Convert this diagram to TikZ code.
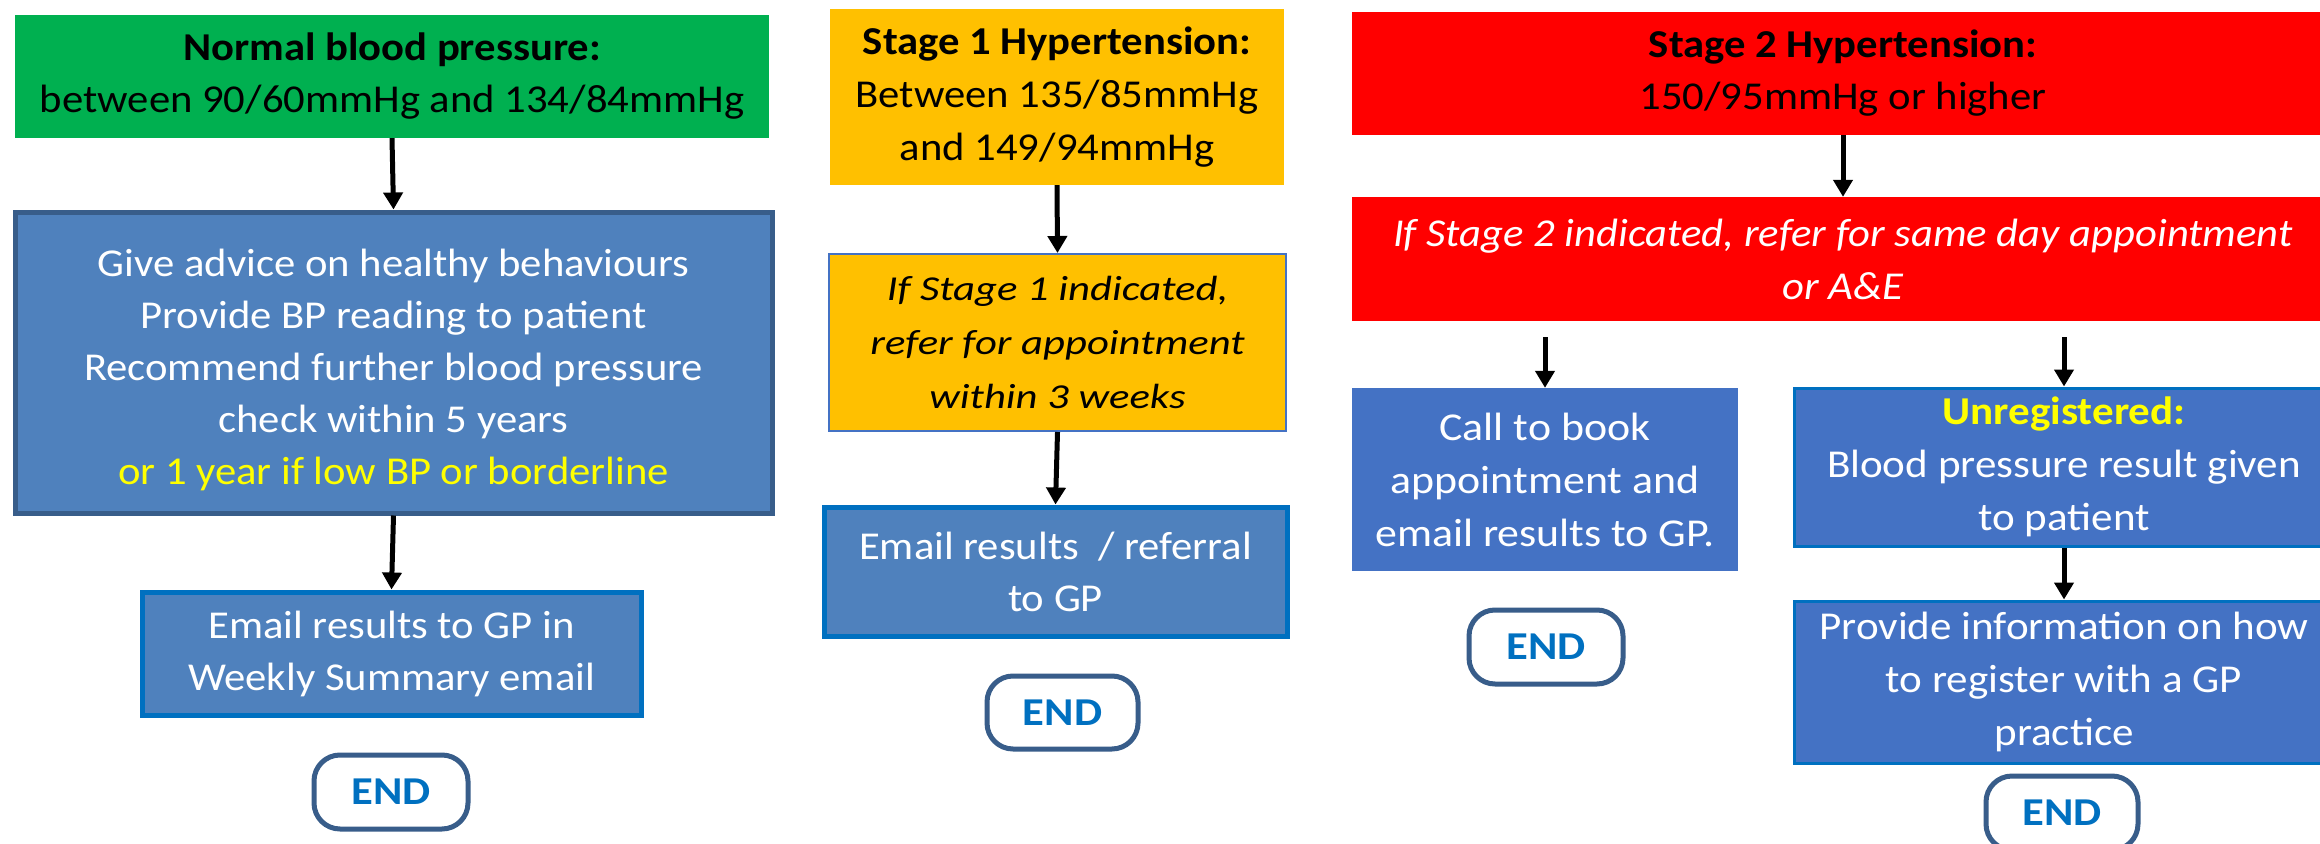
\documentclass[tikz,border=0pt]{standalone}
\usepackage{fontspec}
\setmainfont{Carlito}[FakeStretch=1.08]
\newfontfamily\fstretchB{Carlito}[FakeStretch=1.11]
\newfontfamily\fstretchC{Carlito}[FakeStretch=1.09]
\newfontfamily\fstretchE{Carlito}[FakeStretch=1.13]
\newfontfamily\fstretchI{Carlito}[FakeStretch=1.22]
\usetikzlibrary{arrows.meta}
\definecolor{cgreen}{HTML}{00B050}
\definecolor{cyel}{HTML}{FFC000}
\definecolor{cred}{HTML}{FF0000}
\definecolor{cblueA}{HTML}{4F81BD}
\definecolor{cblueB}{HTML}{4472C4}
\definecolor{cedgeA}{HTML}{385D8A}
\definecolor{cedgeB}{HTML}{0070C0}
\definecolor{cyt}{HTML}{FFFF00}
\begin{document}
\begin{tikzpicture}[x=1pt,y=-1pt,
  box/.style={rectangle, inner sep=0pt, align=center, font=\fontsize{39.5}{52}\selectfont},
  greenbox/.style={box, fill=cgreen, text=black},
  yelbox/.style={box, fill=cyel, text=black},
  redbox/.style={box, fill=cred, text=black},
  bluebox/.style={box, fill=cblueA, text=white},
  callbox/.style={box, fill=cblueB, text=white, font=\fstretchB\fontsize{39.5}{53}\selectfont},
  regbox/.style={box, fill=cblueB, text=white, draw=cedgeB, line width=3pt, font=\fstretchC\fontsize{39.5}{53}\selectfont},
  endbox/.style={rectangle, rounded corners=26pt, draw=cedgeA, line width=5pt, fill=white,
     text=cedgeB, font=\fstretchE\fontsize{39.5}{47}\selectfont\bfseries, inner sep=0pt},
  arr/.style={line width=5pt, -{Triangle[length=17pt,width=19pt]}}
]
\useasboundingbox (0,0) rectangle (2320,843);
\fill[white] (0,0) rectangle (2320,843);

% Column 1
\node[greenbox, minimum width=754pt, minimum height=123pt] (n1) at (392,76.5)
  {\textbf{Normal blood pressure:}\\between 90/60mmHg and 134/84mmHg};
\node[bluebox, draw=cedgeA, line width=5pt, minimum width=757pt, minimum height=301pt] (n2) at (393.5,362.5)
  {\rule{0pt}{42pt}Give advice on healthy behaviours\\Provide BP reading to patient\\Recommend further blood pressure\\check within 5 years\\\textcolor{cyt}{or 1 year if low BP or borderline}};
\node[bluebox, draw=cedgeB, line width=5pt, minimum width=499pt, minimum height=123pt] (n3) at (391.5,653.5)
  {Email results to GP in\\Weekly Summary email};
\node[endbox, minimum width=154pt, minimum height=74pt] (e1) at (391,792) {END};

% Column 2
\node[yelbox, font=\fontsize{39.5}{53}\selectfont, minimum width=454pt, minimum height=176pt] (s1) at (1057,97)
  {\textbf{Stage 1 Hypertension:}\\Between 135/85mmHg\\and 149/94mmHg};
\node[yelbox, draw=cblueB, line width=2pt, font=\fstretchI\fontsize{35}{54}\selectfont\itshape,
  minimum width=457pt, minimum height=177pt] (s2) at (1057.5,342.5)
  {If Stage 1 indicated,\\refer for appointment\\within 3 weeks};
\node[bluebox, draw=cedgeB, line width=5pt, minimum width=463pt, minimum height=129pt] (s3) at (1055.5,571.5)
  {Email results \ / referral\\to GP};
\node[endbox, minimum width=151pt, minimum height=73pt] (e2) at (1062.5,712.5) {END};

% Column 3
\node[redbox, minimum width=982pt, minimum height=123pt] (t1) at (1843,73.5)
  {\textbf{Stage 2 Hypertension:}\\150/95mmHg or higher};
\node[redbox, text=white, font=\fontsize{39.5}{53}\selectfont\itshape, minimum width=982pt, minimum height=124pt] (t2) at (1843,259)
  {If Stage 2 indicated, refer for same day appointment\\or A\&E};
\node[callbox, minimum width=386pt, minimum height=183pt] (t3) at (1545,479.5)
  {Call to book\\appointment and\\email results to GP.};
\node[regbox, minimum width=540pt, minimum height=158pt] (t4) at (2064,467)
  {\textcolor{cyt}{\textbf{Unregistered:}}\\Blood pressure result given\\to patient};
\node[regbox, minimum width=540pt, minimum height=162pt] (t5) at (2064,682)
  {Provide information on how\\to register with a GP\\practice};
\node[endbox, minimum width=154pt, minimum height=74pt] (e3) at (1546,647) {END};
\node[endbox, minimum width=152pt, minimum height=74pt] (e4) at (2062,813) {END};

\coordinate (c1) at (1545,337);
\coordinate (c2) at (2064,337);

% Connectors
\draw[arr] (n1.south) -- (n2.north);
\draw[arr] (n2.south) -- (n3.north);
\draw[arr] (s1.south) -- (s2.north);
\draw[arr] (s2.south) -- (s3.north);
\draw[arr] (t1.south) -- (t2.north);
\draw[arr] (c1) -- (t3.north);
\draw[arr] (c2) -- (t4.north);
\draw[arr] (t4.south) -- (t5.north);
\end{tikzpicture}
\end{document}
